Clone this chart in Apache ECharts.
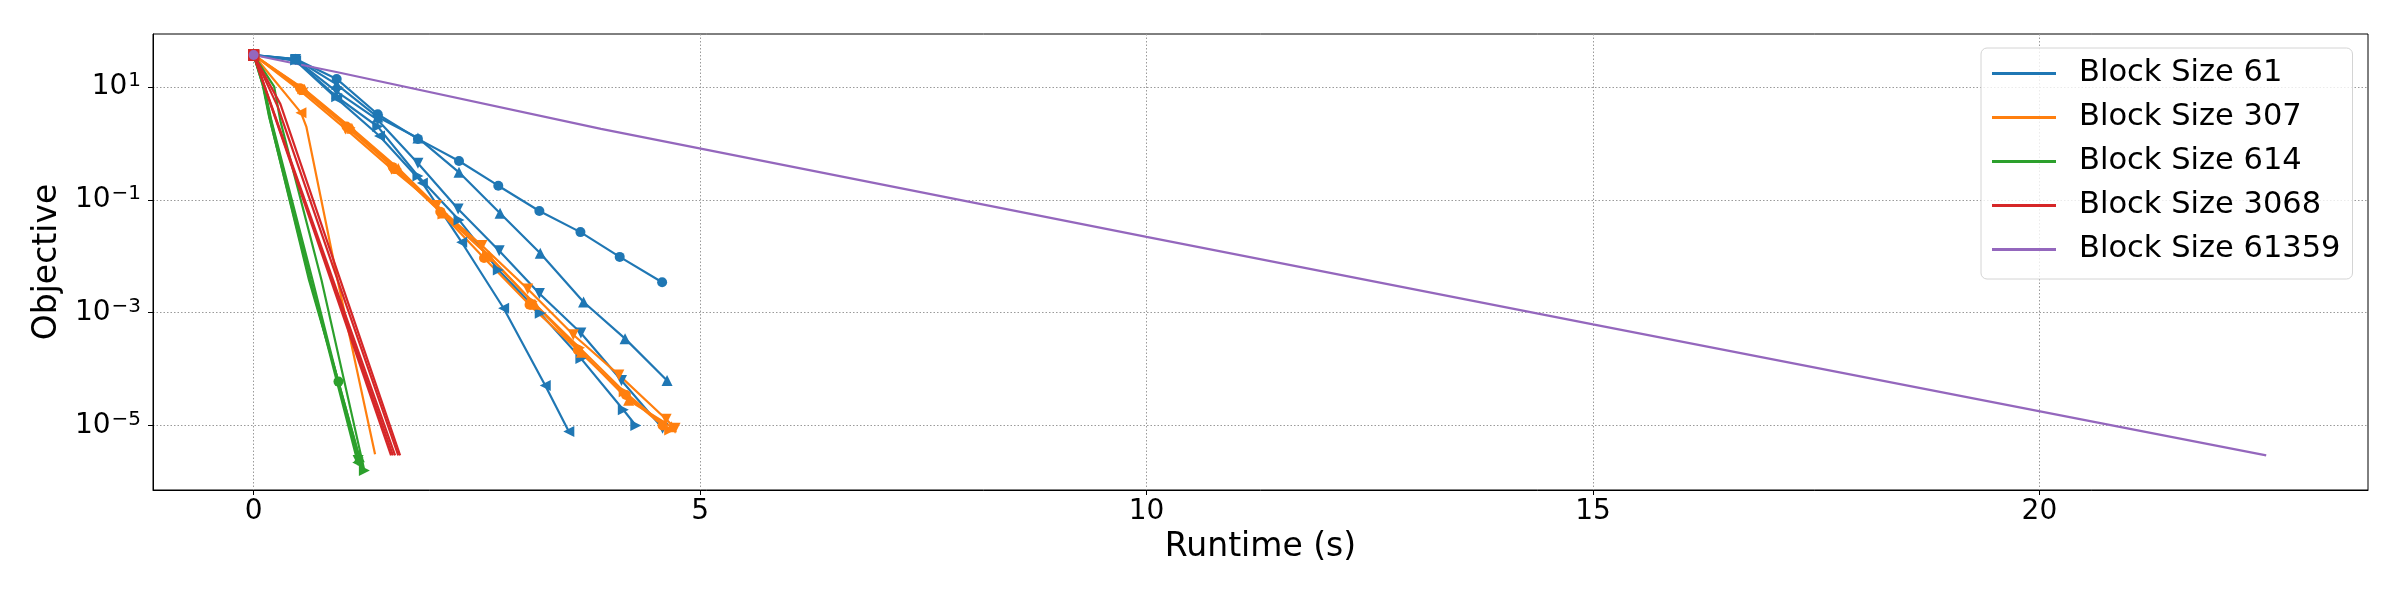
<!DOCTYPE html>
<html>
<head>
<meta charset="utf-8">
<script src="https://cdn.jsdelivr.net/npm/echarts@6/dist/echarts.min.js"></script>
<style>
html, body { margin: 0; padding: 0; background: #fff; }
#chart { width: 2400px; height: 600px; }
</style>
</head>
<body>
<div id="chart"></div>
<script>
// [runtime (s), objective] per run
const bs61Circle = [[0, 37.2], [0.47, 31.6], [0.93, 14.0], [1.39, 3.31], [1.84, 1.21], [2.30, 0.491], [2.74, 0.179], [3.20, 0.0638], [3.66, 0.0269], [4.10, 0.00977], [4.575, 0.00347]]
const bs61Up = [[0, 37.2], [0.47, 31.6], [0.93, 11.2], [1.39, 2.95], [1.84, 1.26], [2.30, 0.309], [2.76, 0.0581], [3.21, 0.01135], [3.695, 0.00155], [4.16, 3.47e-4], [4.63, 6.3e-5]]
const bs61Down = [[0, 37.2], [0.47, 30.9], [0.93, 8.32], [1.39, 2.63], [1.84, 0.447], [2.29, 0.0692], [2.75, 0.0126], [3.20, 0.00219], [3.665, 4.37e-4], [4.12, 6.3e-5], [4.58, 8.9e-6]]
const bs61Right = [[0, 37.2], [0.47, 30.2], [0.93, 6.76], [1.39, 2.0], [1.84, 0.266], [2.30, 0.0442], [2.74, 0.00575], [3.21, 9.8e-4], [3.665, 1.55e-4], [4.14, 1.9e-5], [4.28, 1.0e-5]]
const bs61Left = [[0, 37.2], [0.47, 29.5], [0.93, 6.31], [1.41, 1.36], [1.89, 0.2], [2.33, 0.0178], [2.80, 0.0012], [3.266, 5.1e-5], [3.53, 7.8e-6]]

const bs307Circle = [[0, 37.2], [0.52, 9.55], [1.04, 2.0], [1.56, 0.38], [2.09, 0.0617], [2.58, 0.00933], [3.09, 0.00138], [3.63, 2.19e-4], [4.17, 3.47e-5], [4.58, 1.0e-5]]
const bs307Down = [[0, 37.2], [0.51, 8.91], [1.03, 1.82], [1.54, 0.363], [2.05, 0.0794], [2.557, 0.0155], [3.07, 0.00263], [3.58, 4.07e-4], [4.09, 7.9e-5], [4.62, 1.29e-5], [4.72, 8.9e-6]]
const bs307Left = [[0, 37.2], [0.53, 3.53], [0.59, 2.0], [0.94, 0.0038], [1.36, 3.1e-6]]
const bs307Right = [[0, 37.2], [0.55, 9.33], [1.08, 1.91], [1.60, 0.355], [2.12, 0.0562], [2.62, 0.0106], [3.12, 0.00158], [3.65, 2.4e-4], [4.15, 3.98e-5], [4.66, 8.3e-6]]
const bs307Up = [[0, 37.2], [0.57, 9.12], [1.10, 1.86], [1.62, 0.363], [2.13, 0.0589], [2.64, 0.01], [3.15, 0.00141], [3.67, 2.0e-4], [4.2, 2.8e-5], [4.68, 9.5e-6]]

const bs614Circle = [[0, 37.2], [0.1, 12.6], [0.18, 2.82], [0.62, 0.0038], [0.95, 6.0e-5], [1.18, 2.8e-6]]
const bs614Up = [[0, 37.2], [0.1, 11.2], [0.17, 3.16], [0.63, 0.0038], [1.184, 2.8e-6]]
const bs614Down = [[0, 37.2], [0.12, 10], [0.2, 2.5], [0.66, 0.0038], [1.17, 2.4e-6]]
const bs614Left = [[0, 37.2], [0.11, 10], [0.18, 3.16], [0.64, 0.0038], [1.166, 2.2e-6]]
const bs614Right = [[0, 37.2], [0.23, 10.2], [0.3, 2.5], [0.76, 0.0038], [1.24, 1.6e-6]]

const bs3068a = [[0, 37.2], [1.539, 2.95e-6]]
const bs3068b = [[0, 37.2], [1.56, 2.95e-6]]
const bs3068c = [[0, 37.2], [1.584, 2.95e-6]]
const bs3068d = [[0, 37.2], [0.27, 4.52], [1.62, 2.95e-6]]
const bs3068e = [[0, 37.2], [0.3, 5.0], [1.64, 2.95e-6]]

const bs61359 = [[0, 37.2], [0.94, 18.4], [3.89, 1.82], [10, 0.0221], [15, 6.2e-4], [22.54, 2.95e-6]]

const names = ['Block Size 61', 'Block Size 307', 'Block Size 614', 'Block Size 3068', 'Block Size 61359']
const colors = ['#1f77b4', '#ff7f0e', '#2ca02c', '#d62728', '#9467bd']
const xTicks = [0, 5, 10, 15, 20]
const yTicks = [1e-5, 1e-3, 1e-1, 10]

const FONT = 'DejaVu Sans'

// markers: o ^ v < >
const shapes = {
    o: ['circle', 0],
    '^': ['triangle', 0],
    v: ['triangle', 180],
    '<': ['triangle', 90],
    '>': ['triangle', -90],
    s: ['rect', 0]
}

function run(k, marker, data, marks) {
    const [sym, rot] = shapes[marker]
    return {
        type: 'line',
        name: names[k],
        data: data,
        symbol: function (v, p) {
            return (!marks || marks.indexOf(p.dataIndex) >= 0) ? sym : 'none'
        },
        symbolRotate: rot,
        symbolSize: sym === 'circle' ? 10 : 11,
        showAllSymbol: true,
        lineStyle: { width: 2.2, color: colors[k] },
        itemStyle: { color: colors[k] },
        emphasis: { disabled: true },
        animation: false
    }
}

const series = [
    run(0, 'o', bs61Circle),
    run(0, '^', bs61Up),
    run(0, 'v', bs61Down),
    run(0, '>', bs61Right),
    run(0, '<', bs61Left),
    run(1, 'o', bs307Circle),
    run(1, 'v', bs307Down),
    run(1, '<', bs307Left, [0, 1]),
    run(1, '>', bs307Right),
    run(1, '^', bs307Up),
    run(2, 'o', bs614Circle, [0, 4]),
    run(2, '^', bs614Up, [0, 4]),
    run(2, 'v', bs614Down, [0, 4]),
    run(2, '<', bs614Left, [0, 4]),
    run(2, '>', bs614Right, [0, 4]),
    run(3, 's', bs3068a, [0]),
    run(3, 's', bs3068b, [0]),
    run(3, 's', bs3068c, [0]),
    run(3, 's', bs3068d, [0]),
    run(3, 's', bs3068e, [0]),
    run(4, 'o', bs61359, [0])
]

const gridLine = {
    show: true,
    lineStyle: { color: '#9a9a9a', width: 1, type: [1.5, 2] }
}

const chart = echarts.init(document.getElementById('chart'))
chart.setOption({
    backgroundColor: '#fff',
    animation: false,
    textStyle: { fontFamily: FONT },
    grid: {
        left: 153,
        right: 32,
        top: 34,
        bottom: 110,
        show: true,
        borderColor: '#000',
        borderWidth: 1,
        containLabel: false,
        outerBoundsMode: 'none'
    },
    legend: {
        orient: 'vertical',
        left: 1981,
        top: 48,
        padding: [10, 12, 14, 11],
        itemWidth: 64,
        itemHeight: 3,
        itemGap: 13,
        icon: 'rect',
        data: names,
        backgroundColor: 'rgba(255,255,255,0.8)',
        borderColor: '#d4d4d4',
        borderWidth: 1,
        borderRadius: 6,
        textStyle: {
            fontFamily: FONT,
            fontSize: 30.5,
            lineHeight: 31,
            color: '#000',
            padding: [0, 0, 0, 18]
        },
        z: 10
    },
    xAxis: {
        type: 'value',
        min: -1.127,
        max: 23.68,
        name: 'Runtime (s)',
        nameLocation: 'middle',
        nameGap: 40,
        nameTextStyle: { fontFamily: FONT, fontSize: 33, color: '#000' },
        axisLine: { show: true, onZero: false, lineStyle: { color: '#000', width: 1 } },
        axisTick: { show: true, length: 5, customValues: xTicks, lineStyle: { color: '#000' } },
        axisLabel: { customValues: xTicks, fontFamily: FONT, fontSize: 28, color: '#000', margin: 8 },
        splitLine: gridLine
    },
    yAxis: {
        type: 'log',
        logBase: 10,
        min: 7.18e-7,
        max: 87.7,
        name: 'Objective',
        nameLocation: 'middle',
        nameGap: 86,
        nameTextStyle: { fontFamily: FONT, fontSize: 33, color: '#000' },
        axisLine: { show: true, onZero: false, lineStyle: { color: '#000', width: 1 } },
        axisTick: { show: true, length: 5, customValues: yTicks, lineStyle: { color: '#000' } },
        axisLabel: {
            customValues: yTicks,
            margin: 12,
            formatter: function (v) {
                const e = Math.round(Math.log10(v))
                return '{b|10}{s|' + (e < 0 ? '\u2212' + (-e) : e) + '}'
            },
            rich: {
                b: { fontFamily: FONT, fontSize: 28, lineHeight: 28, color: '#000', verticalAlign: 'middle' },
                s: { fontFamily: FONT, fontSize: 20, lineHeight: 20, color: '#000', padding: [0, 0, 12, 1], verticalAlign: 'middle' }
            }
        },
        splitLine: gridLine
    },
    series: series
})
</script>
</body>
</html>
